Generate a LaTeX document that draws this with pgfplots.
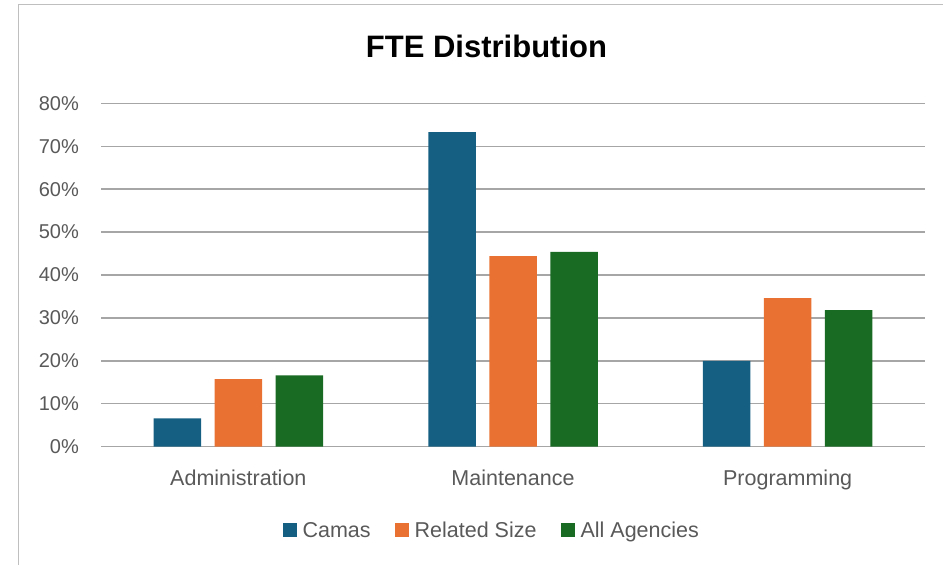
\documentclass[border=0pt]{standalone}
\usepackage{fontspec}
\setmainfont{Liberation Sans}
\usepackage{pgfplots}
\pgfplotsset{compat=1.18}

\definecolor{camas}{HTML}{156082}
\definecolor{related}{HTML}{E97132}
\definecolor{allag}{HTML}{196B24}
\definecolor{txt}{HTML}{595959}
\definecolor{gridc}{HTML}{A6A6A6}
\definecolor{framec}{HTML}{BFBFBF}

\begin{document}
\begin{tikzpicture}[x=1pt,y=1pt]
	\useasboundingbox (0,0) rectangle (943,565);
	% chart frame, cut off at right and bottom
	\draw[framec, line width=1.5pt] (18.5,-5) -- (18.5,560.5) -- (950,560.5);
	\node[font=\bfseries\fontsize{31}{36}\selectfont, text=black] at (486.5,519) {FTE Distribution};
	\begin{axis}[
			at={(101pt,118.4pt)}, anchor=south west,
			scale only axis,
			width=824pt, height=343.2pt,
			ybar=13.5pt,
			bar width=47.5pt,
			xmin=-0.5, xmax=2.5,
			ymin=0, ymax=80,
			xtick={0,1,2},
			xticklabels={Administration,Maintenance,Programming},
			ytick={0,10,...,80},
			yticklabels={0\%,10\%,20\%,30\%,40\%,50\%,60\%,70\%,80\%},
			major tick length=0pt,
			axis line style={draw=none},
			xmajorgrids=false,
			ymajorgrids=true,
			grid style={draw=gridc, line width=1.5pt},
			tick label style={text=txt, font=\fontsize{20}{24}\selectfont},
			yticklabel style={inner sep=0pt, anchor=east, xshift=-22pt},
			xticklabel style={inner sep=0pt, anchor=base, yshift=-38.4pt,
				font=\fontsize{21.5}{26}\selectfont},
			legend columns=3,
			legend style={at={(0.473,-0.247)}, anchor=center, draw=none, fill=none,
				font=\fontsize{21.5}{26}\selectfont, text=txt,
				/tikz/every even column/.append style={column sep=24pt},
				nodes={inner sep=0pt, text depth=0.25em, text height=0.75em}},
			legend image code/.code={\fill[#1] (0pt,-1.5pt) rectangle (14pt,12.5pt); \path (20pt,0pt);},
			legend cell align=left,
		]
		\addplot[fill=camas, draw=none] coordinates {(0,6.6) (1,73.3) (2,20.0)};
		\addplot[fill=related, draw=none] coordinates {(0,15.7) (1,44.4) (2,34.6)};
		\addplot[fill=allag, draw=none] coordinates {(0,16.6) (1,45.4) (2,31.8)};
		\legend{Camas,Related Size,All Agencies}
	\end{axis}
\end{tikzpicture}
\end{document}
